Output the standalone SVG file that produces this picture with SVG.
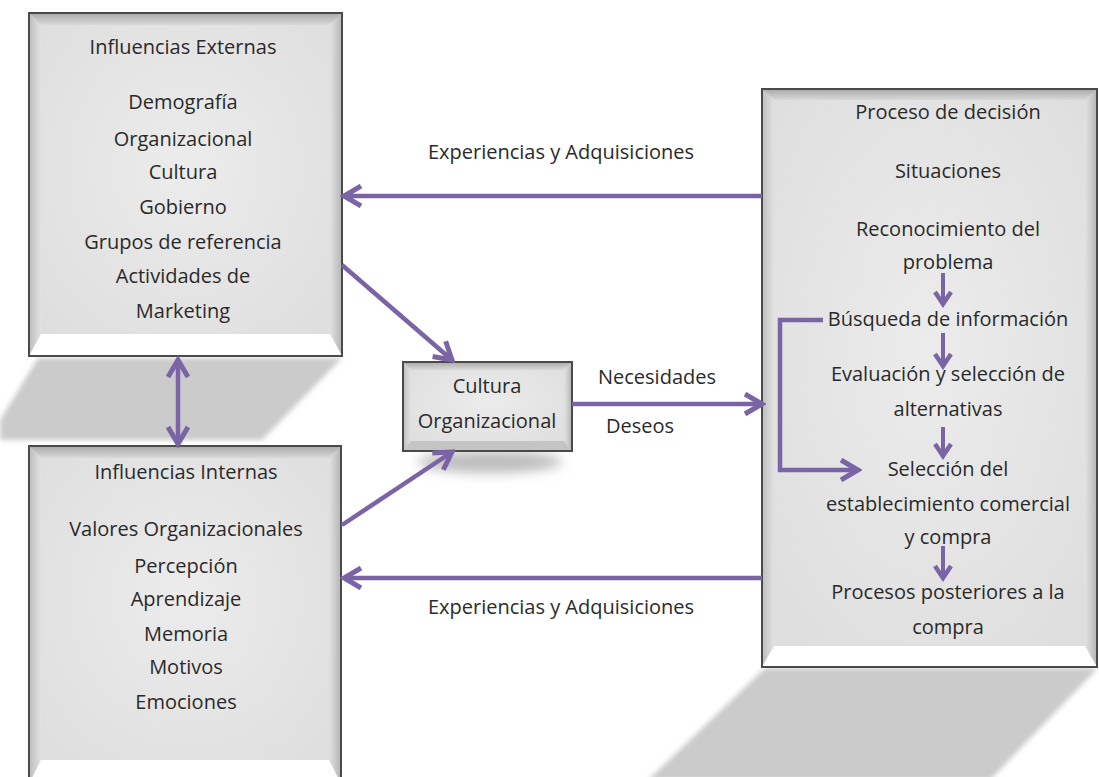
<svg xmlns="http://www.w3.org/2000/svg" width="1099" height="777" viewBox="0 0 1099 777">
<style>
  text { font-family: "Open Sans", "Liberation Sans", sans-serif; font-size: 20px; fill: #2a2a2a; text-anchor: middle; }
  .frame { fill: none; stroke: #4a4a4a; stroke-width: 2; }
  .face { fill: url(#faceG); }
  .btop { fill: url(#topG); }
  .bleft { fill: url(#leftG); }
  .bright { fill: url(#rightG); }
  .bbot { fill: #ffffff; }
  .shadow { fill: #cbcbcb; filter: url(#blur); }
  .conn { fill: none; stroke: #7a64a6; stroke-width: 4.5; stroke-linejoin: miter; }
  .small { fill: none; stroke: #7a64a6; stroke-width: 4; }
</style>
<defs>
  <radialGradient id="faceG" cx="50%" cy="45%" r="65%">
    <stop offset="0" stop-color="#ececec"/>
    <stop offset="1" stop-color="#dedede"/>
  </radialGradient>
  <linearGradient id="topG" x1="0" y1="0" x2="0" y2="1">
    <stop offset="0" stop-color="#a9a9a9"/>
    <stop offset="1" stop-color="#d9d9d9"/>
  </linearGradient>
  <linearGradient id="leftG" x1="0" y1="0" x2="1" y2="0">
    <stop offset="0" stop-color="#bdbdbd"/>
    <stop offset="1" stop-color="#e2e2e2"/>
  </linearGradient>
  <linearGradient id="rightG" x1="1" y1="0" x2="0" y2="0">
    <stop offset="0" stop-color="#b5b5b5"/>
    <stop offset="1" stop-color="#e2e2e2"/>
  </linearGradient>
  <filter id="blur" x="-10%" y="-10%" width="120%" height="120%">
    <feGaussianBlur stdDeviation="2.5"/>
  </filter>
  <filter id="blur2" x="-30%" y="-100%" width="160%" height="300%">
    <feGaussianBlur stdDeviation="6"/>
  </filter>
  <marker id="head" markerUnits="userSpaceOnUse" viewBox="0 0 24 24" refX="20" refY="12" markerWidth="24" markerHeight="24" orient="auto-start-reverse">
    <path d="M3,2 L20,12 L3,22" fill="none" stroke="#7a64a6" stroke-width="5"/>
  </marker>
  <marker id="headS" markerUnits="userSpaceOnUse" viewBox="0 0 20 20" refX="16" refY="10" markerWidth="20" markerHeight="20" orient="auto">
    <path d="M4,2 L16,10 L4,18" fill="none" stroke="#7a64a6" stroke-width="4.5"/>
  </marker>
</defs>

<rect width="1099" height="777" fill="#ffffff"/>

<!-- shadows -->
<g id="shadows">
  <polygon class="shadow" points="38,358 342,358 262,440 0,440 0,420"/>
  <polygon class="shadow" points="765,668 1098,668 990,780 648,780"/>
  <ellipse cx="490" cy="462" rx="72" ry="11" fill="#bdbdbd" filter="url(#blur2)"/>
</g>

<!-- Influencias Externas -->
<g id="node-externas">
  <rect class="face" x="29" y="13" width="313" height="343"/>
  <polygon class="btop" points="29,13 342,13 330,25 41,25"/>
  <polygon class="bleft" points="29,13 41,25 41,334 29,356"/>
  <polygon class="bright" points="342,13 330,25 330,334 342,356"/>
  <polygon class="bbot" points="29,356 41,334 330,334 342,356"/>
  <rect class="frame" x="29" y="13" width="313" height="343"/>
  <text x="183" y="54">Influencias Externas</text>
  <text x="183" y="109">Demografía</text>
  <text x="183" y="146">Organizacional</text>
  <text x="183" y="179">Cultura</text>
  <text x="183" y="214">Gobierno</text>
  <text x="183" y="249">Grupos de referencia</text>
  <text x="183" y="283">Actividades de</text>
  <text x="183" y="318">Marketing</text>
</g>

<!-- Influencias Internas -->
<g id="node-internas">
  <rect class="face" x="29" y="446" width="312" height="338"/>
  <polygon class="btop" points="29,446 341,446 329,458 41,458"/>
  <polygon class="bleft" points="29,446 41,458 41,760 29,784"/>
  <polygon class="bright" points="341,446 329,458 329,760 341,784"/>
  <polygon class="bbot" points="29,784 41,760 329,760 341,784"/>
  <rect class="frame" x="29" y="446" width="312" height="338"/>
  <text x="186" y="479">Influencias Internas</text>
  <text x="186" y="536">Valores Organizacionales</text>
  <text x="186" y="573">Percepción</text>
  <text x="186" y="606">Aprendizaje</text>
  <text x="186" y="641">Memoria</text>
  <text x="186" y="674">Motivos</text>
  <text x="186" y="709">Emociones</text>
</g>

<!-- Proceso de decisión -->
<g id="node-proceso">
  <rect class="face" x="762" y="89" width="335" height="578"/>
  <polygon class="btop" points="762,89 1097,89 1085,100 774,100"/>
  <polygon class="bleft" points="762,89 774,100 774,646 762,667"/>
  <polygon class="bright" points="1097,89 1085,100 1085,646 1097,667"/>
  <polygon class="bbot" points="762,667 774,646 1085,646 1097,667"/>
  <rect class="frame" x="762" y="89" width="335" height="578"/>
  <text x="948" y="119">Proceso de decisión</text>
  <text x="948" y="178">Situaciones</text>
  <text x="948" y="236">Reconocimiento del</text>
  <text x="948" y="269">problema</text>
  <text x="948" y="326">Búsqueda de información</text>
  <text x="948" y="381">Evaluación y selección de</text>
  <text x="948" y="416">alternativas</text>
  <text x="948" y="476">Selección del</text>
  <text x="948" y="511">establecimiento comercial</text>
  <text x="948" y="544">y compra</text>
  <text x="948" y="599">Procesos posteriores a la</text>
  <text x="948" y="634">compra</text>
</g>

<!-- Cultura Organizacional -->
<g id="node-cultura">
  <rect class="face" x="403" y="362" width="169" height="89"/>
  <polygon class="btop" points="403,362 572,362 564,370 411,370"/>
  <polygon class="bleft" points="403,362 411,370 411,441 403,451"/>
  <polygon class="bright" points="572,362 564,370 564,441 572,451"/>
  <polygon points="403,451 411,441 564,441 572,451" fill="#c4c4c4"/>
  <rect class="frame" x="403" y="362" width="169" height="89"/>
  <text x="487" y="393">Cultura</text>
  <text x="487" y="428">Organizacional</text>
</g>

<!-- connectors -->
<g id="connectors">
  <line class="conn" x1="762" y1="196" x2="344" y2="196" marker-end="url(#head)"/>
  <line class="conn" x1="762" y1="578" x2="344" y2="578" marker-end="url(#head)"/>
  <line class="conn" x1="342" y1="265" x2="452" y2="360" marker-end="url(#head)"/>
  <line class="conn" x1="342" y1="525" x2="452" y2="452" marker-end="url(#head)"/>
  <line class="conn" x1="572" y1="404" x2="762" y2="404" marker-end="url(#head)"/>
  <line class="conn" x1="178" y1="360" x2="178" y2="444" marker-start="url(#head)" marker-end="url(#head)"/>
  <line class="small" x1="943" y1="273" x2="943" y2="304" marker-end="url(#headS)"/>
  <line class="small" x1="943" y1="333" x2="943" y2="366" marker-end="url(#headS)"/>
  <line class="small" x1="943" y1="427" x2="943" y2="456" marker-end="url(#headS)"/>
  <line class="small" x1="943" y1="546" x2="943" y2="578" marker-end="url(#headS)"/>
  <polyline class="conn" points="823,320 780,320 780,470 858,470" marker-end="url(#head)"/>
</g>

<!-- labels -->
<g id="labels">
  <text x="561" y="159">Experiencias y Adquisiciones</text>
  <text x="561" y="614">Experiencias y Adquisiciones</text>
  <text x="657" y="384">Necesidades</text>
  <text x="640" y="433">Deseos</text>
</g>
</svg>
